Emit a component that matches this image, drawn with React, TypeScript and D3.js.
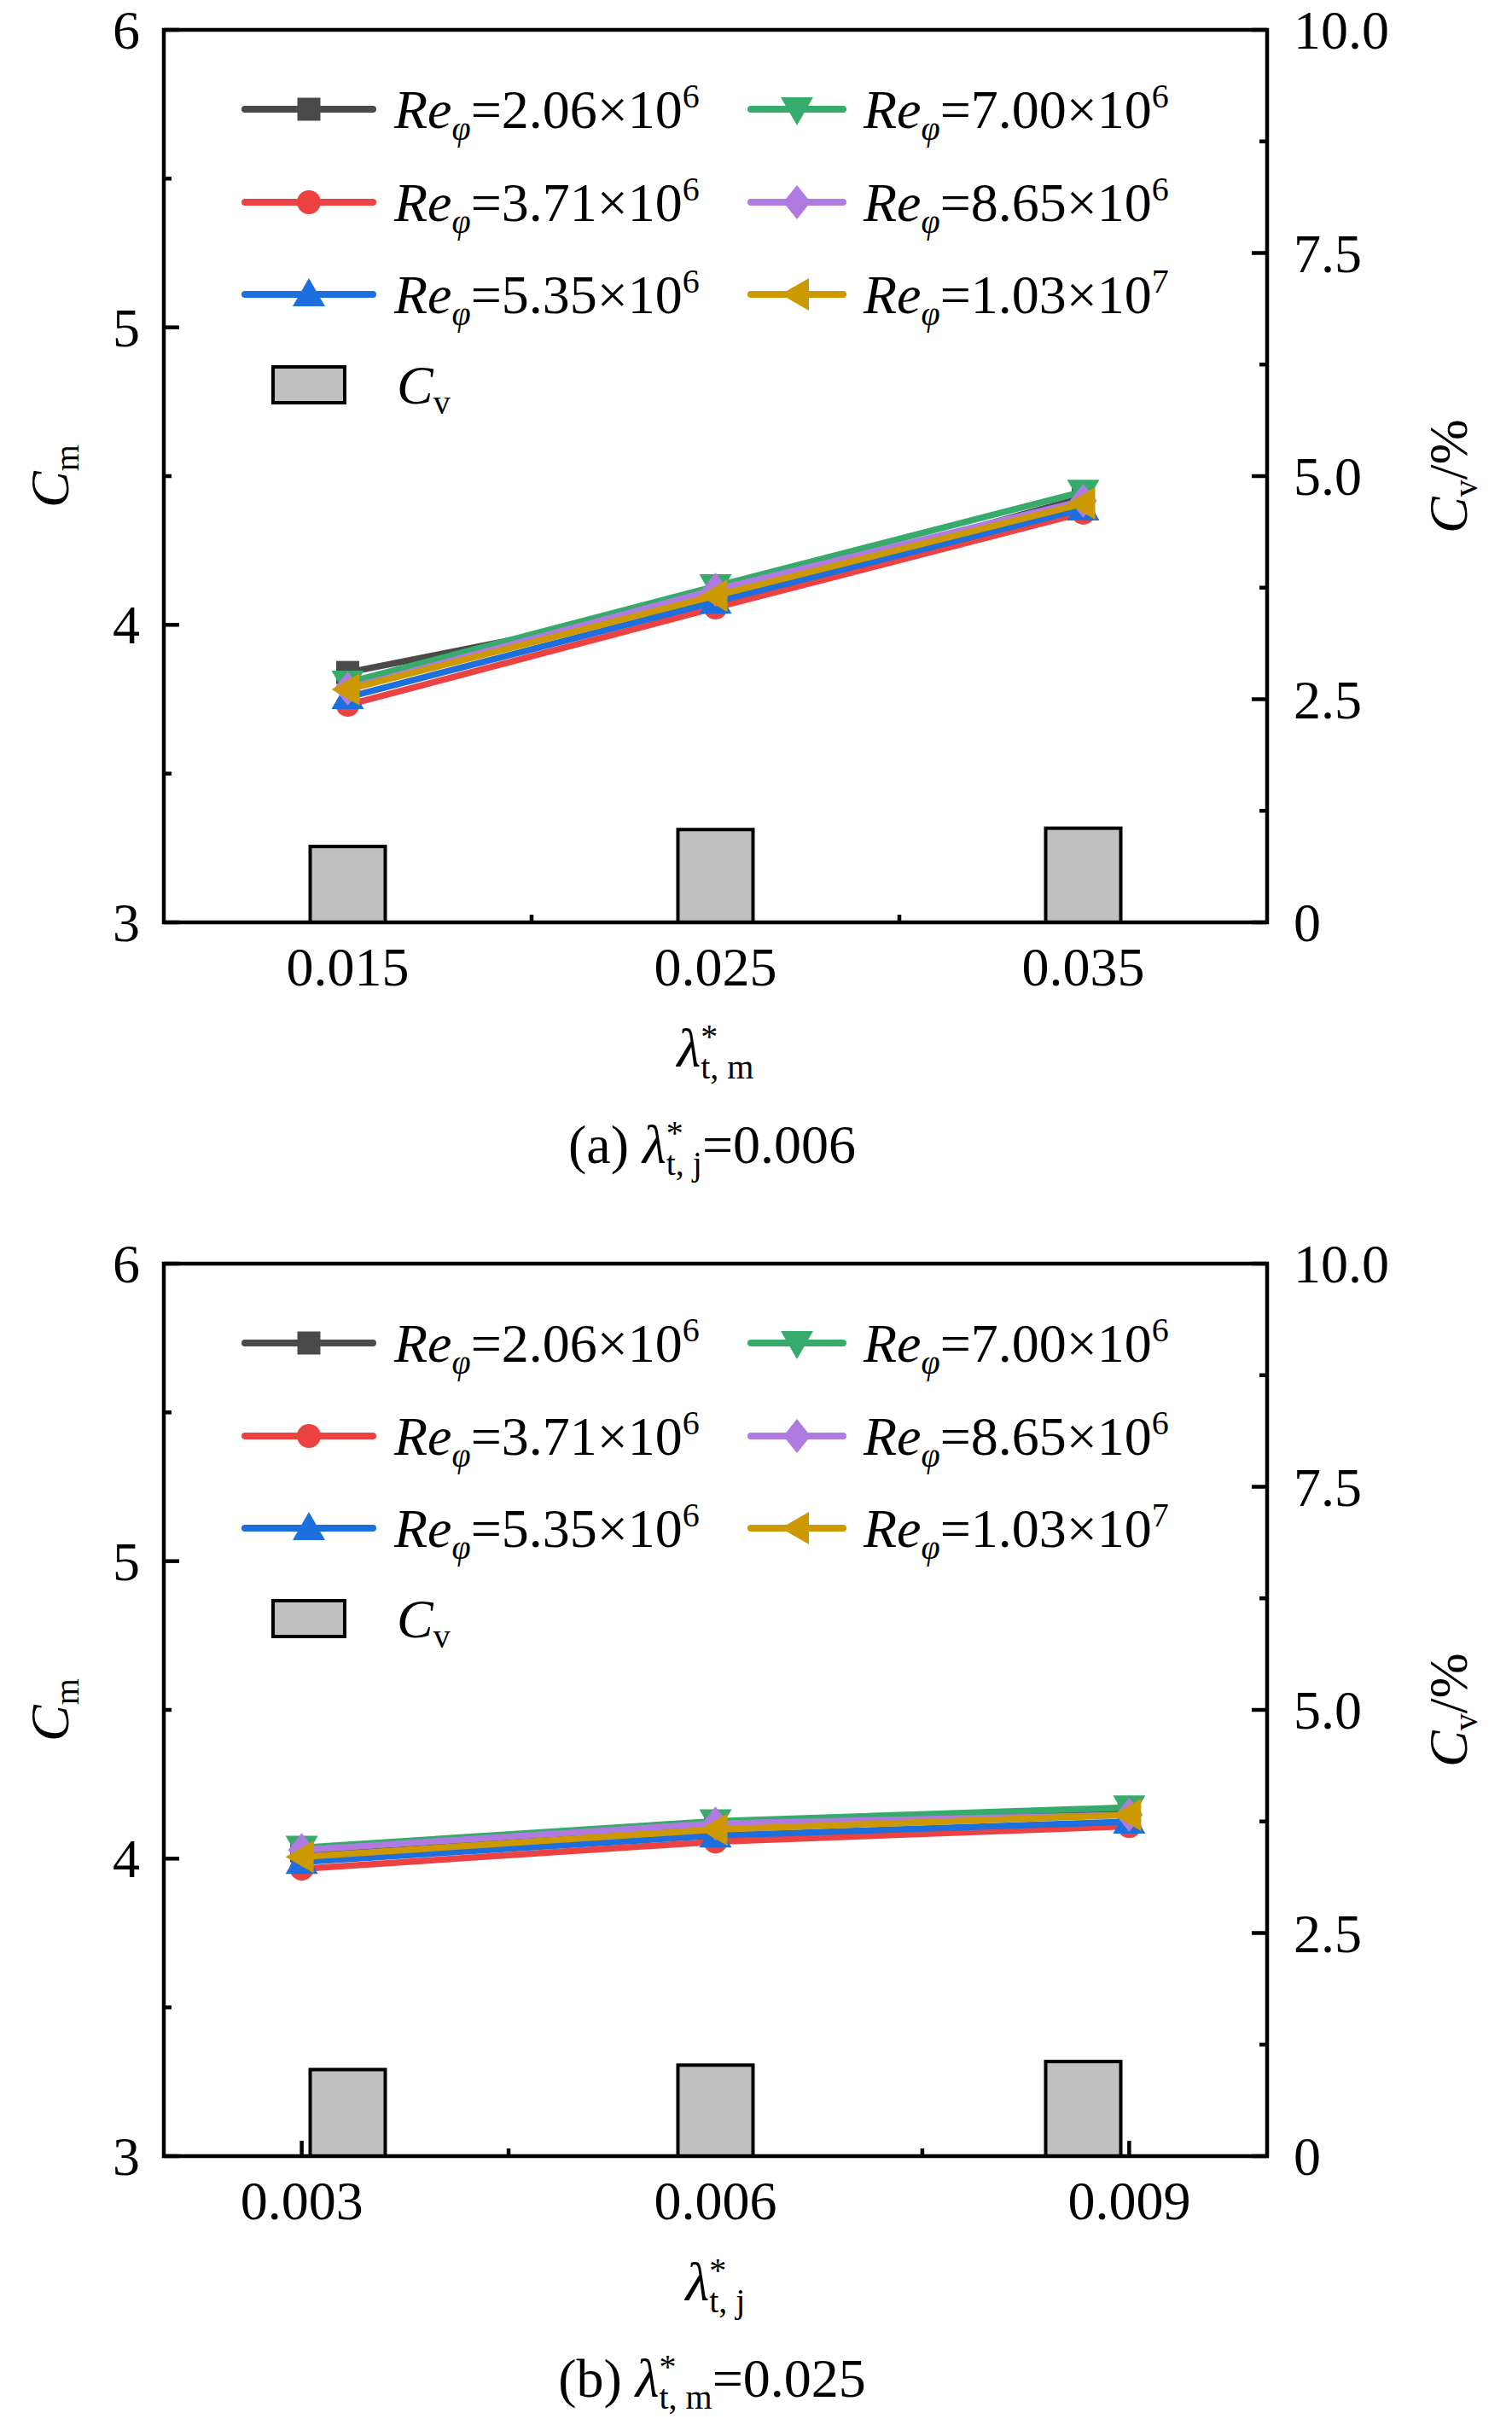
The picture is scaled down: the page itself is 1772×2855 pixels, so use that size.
import React from "react";
import * as d3 from "d3";

// ---------- data ----------
const xA = [0.015, 0.025, 0.035];
const xB = [0.003, 0.006, 0.009];
const xTickLabelsA = ["0.015", "0.025", "0.035"];
const xTickLabelsB = ["0.003", "0.006", "0.009"];
const xMinorA = [0.02, 0.03];
const xMinorB = [0.0045, 0.0075];

const reMantissa = ["2.06", "3.71", "5.35", "7.00", "8.65", "1.03"];
const reExponent = ["6", "6", "6", "6", "6", "7"];

// panel (a): Cm vs lambda*_t,m
const cmA_206 = [3.84, 4.085, 4.428];
const cmA_371 = [3.731, 4.058, 4.377];
const cmA_535 = [3.757, 4.078, 4.391];
const cmA_700 = [3.806, 4.13, 4.448];
const cmA_865 = [3.786, 4.118, 4.417];
const cmA_1030 = [3.783, 4.098, 4.408];
const cvA = [0.85, 1.04, 1.055];

// panel (b): Cm vs lambda*_t,j
const cmB_206 = [4.026, 4.118, 4.16];
const cmB_371 = [3.966, 4.057, 4.109];
const cmB_535 = [3.989, 4.078, 4.124];
const cmB_700 = [4.037, 4.126, 4.172];
const cmB_865 = [4.029, 4.118, 4.147];
const cmB_1030 = [4.006, 4.098, 4.147];
const cvB = [0.97, 1.02, 1.06];

const cmTicks = [3, 4, 5, 6];
const cmMinor = [3.5, 4.5, 5.5];
const cvTicks = [0, 2.5, 5, 7.5, 10];
const cvTickLabels = ["0", "2.5", "5.0", "7.5", "10.0"];
const cvMinor = [1.25, 3.75, 6.25, 8.75];

const colors = ["#4a4a4a", "#ec4242", "#1c6fdc", "#36ab6b", "#b07be0", "#cc9900"];
const shapes = ["square", "circle", "up", "down", "diamond", "left"];

const FONT = "'Liberation Serif', 'Times New Roman', serif";
const FS = 64;
const SFS = 40;

function markerPath(shape: string, cx: number, cy: number): string {
  const p = d3.path();
  if (shape === "square") {
    const h = 13.5;
    p.rect(cx - h, cy - h, 2 * h, 2 * h);
  } else if (shape === "circle") {
    p.moveTo(cx + 14, cy);
    p.arc(cx, cy, 14, 0, Math.PI * 2);
  } else if (shape === "up") {
    p.moveTo(cx, cy - 19);
    p.lineTo(cx + 19, cy + 14);
    p.lineTo(cx - 19, cy + 14);
  } else if (shape === "down") {
    p.moveTo(cx, cy + 19);
    p.lineTo(cx + 19, cy - 14);
    p.lineTo(cx - 19, cy - 14);
  } else if (shape === "diamond") {
    p.moveTo(cx, cy - 20);
    p.lineTo(cx + 16, cy);
    p.lineTo(cx, cy + 20);
    p.lineTo(cx - 16, cy);
  } else {
    p.moveTo(cx - 19, cy);
    p.lineTo(cx + 14, cy - 19);
    p.lineTo(cx + 14, cy + 19);
  }
  p.closePath();
  return p.toString();
}

type PanelProps = {
  top: number;
  xDomain: [number, number];
  xVals: number[];
  xTickLabels: string[];
  xMinor: number[];
  series: number[][];
  cv: number[];
  xSub: string;
  capPrefix: string;
  capSub: string;
  capValue: string;
};

function Panel(props: PanelProps) {
  const { top, xDomain, xVals, xTickLabels, xMinor, series, cv } = props;
  const left = 192;
  const right = 1485;
  const bottom = top + 1046;
  const x = d3.scaleLinear().domain(xDomain).range([left, right]);
  const xBar = d3.scalePoint<number>().domain([0, 1, 2]).range([left, right]).padding(0.5);
  const yL = d3.scaleLinear().domain([3, 6]).range([bottom, top]);
  const yR = d3.scaleLinear().domain([0, 10]).range([bottom, top]);
  const line = d3
    .line<number>()
    .x((_, i) => x(xVals[i]))
    .y((d) => yL(d));
  const barW = 88;
  const AW = 4.5;
  const cx = (left + right) / 2;
  const cy = (top + bottom) / 2;

  const legRows = [top + 93, top + 202, top + 310];
  const legCv = top + 416;
  const cols = [
    { x1: 287, x2: 437, tx: 462 },
    { x1: 880, x2: 988, tx: 1012 },
  ];

  return (
    <g fontFamily={FONT} fontSize={FS} fill="#000">
      {/* ticks */}
      {cmTicks.map((t) => (
        <line key={"lt" + t} x1={left} x2={left + 18} y1={yL(t)} y2={yL(t)} stroke="#000" strokeWidth={AW} />
      ))}
      {cmMinor.map((t) => (
        <line key={"lm" + t} x1={left} x2={left + 9} y1={yL(t)} y2={yL(t)} stroke="#000" strokeWidth={AW} />
      ))}
      {cvTicks.map((t) => (
        <line key={"rt" + t} x1={right - 18} x2={right} y1={yR(t)} y2={yR(t)} stroke="#000" strokeWidth={AW} />
      ))}
      {cvMinor.map((t) => (
        <line key={"rm" + t} x1={right - 9} x2={right} y1={yR(t)} y2={yR(t)} stroke="#000" strokeWidth={AW} />
      ))}
      {xVals.map((t) => (
        <line key={"bt" + t} x1={x(t)} x2={x(t)} y1={bottom} y2={bottom - 18} stroke="#000" strokeWidth={AW} />
      ))}
      {xMinor.map((t) => (
        <line key={"bm" + t} x1={x(t)} x2={x(t)} y1={bottom} y2={bottom - 9} stroke="#000" strokeWidth={AW} />
      ))}

      {/* bars */}
      {cv.map((v, i) => (
        <rect
          key={"bar" + i}
          x={(xBar(i) as number) - barW / 2}
          y={yR(v)}
          width={barW}
          height={bottom - yR(v)}
          fill="#c0c0c0"
          stroke="#000"
          strokeWidth={4}
        />
      ))}

      {/* lines */}
      {series.map((s, k) => (
        <g key={"s" + k}>
          <path d={line(s) || ""} fill="none" stroke={colors[k]} strokeWidth={7.5} strokeLinejoin="round" />
          {s.map((v, i) => (
            <path key={i} d={markerPath(shapes[k], x(xVals[i]), yL(v))} fill={colors[k]} />
          ))}
        </g>
      ))}

      {/* frame */}
      <rect x={left} y={top} width={right - left} height={bottom - top} fill="none" stroke="#000" strokeWidth={AW} />

      {/* tick labels */}
      {cmTicks.map((t) => (
        <text key={"ll" + t} x={164} y={yL(t) + 22} textAnchor="end">
          {t}
        </text>
      ))}
      {cvTicks.map((t, i) => (
        <text key={"rl" + t} x={1516} y={yR(t) + 22} textAnchor="start">
          {cvTickLabels[i]}
        </text>
      ))}
      {xVals.map((t, i) => (
        <text key={"xl" + t} x={x(t)} y={bottom + 74} textAnchor="middle">
          {xTickLabels[i]}
        </text>
      ))}

      {/* axis titles */}
      <text transform={`translate(80,${cy}) rotate(-90)`} textAnchor="middle">
        <tspan fontStyle="italic">C</tspan>
        <tspan fontSize={SFS} dy={12}>m</tspan>
      </text>
      <text transform={`translate(1719,${cy}) rotate(-90)`} textAnchor="middle">
        <tspan fontStyle="italic">C</tspan>
        <tspan fontSize={SFS} dy={12}>v</tspan>
        <tspan dy={-12}>/%</tspan>
      </text>
      <text x={cx} y={bottom + 169} textAnchor="middle">
        <tspan fontStyle="italic">λ</tspan>
        <tspan fontSize={SFS} dy={-22}>*</tspan>
        <tspan fontSize={SFS} dx={-20} dy={36}>{props.xSub}</tspan>
      </text>
      <text x={cx - 4} y={bottom + 282} textAnchor="middle">
        <tspan>{props.capPrefix} </tspan>
        <tspan fontStyle="italic">λ</tspan>
        <tspan fontSize={SFS} dy={-22}>*</tspan>
        <tspan fontSize={SFS} dx={-20} dy={36}>{props.capSub}</tspan>
        <tspan dy={-14}>={props.capValue}</tspan>
      </text>

      {/* legend */}
      {series.map((_, k) => {
        const col = cols[Math.floor(k / 3)];
        const ry = legRows[k % 3];
        const mx = (col.x1 + col.x2) / 2;
        return (
          <g key={"lg" + k}>
            <line x1={col.x1} x2={col.x2} y1={ry} y2={ry} stroke={colors[k]} strokeWidth={8} strokeLinecap="round" />
            <path d={markerPath(shapes[k], mx, ry)} fill={colors[k]} />
            <text x={col.tx} y={ry + 22}>
              <tspan fontStyle="italic">Re</tspan>
              <tspan fontStyle="italic" fontSize={SFS} dy={14}>φ</tspan>
              <tspan dy={-14}>={reMantissa[k]}×10</tspan>
              <tspan fontSize={SFS} dy={-24}>{reExponent[k]}</tspan>
            </text>
          </g>
        );
      })}
      <rect x={320} y={legCv - 21} width={84} height={42} fill="#c0c0c0" stroke="#000" strokeWidth={4} />
      <text x={465} y={legCv + 22}>
        <tspan fontStyle="italic">C</tspan>
        <tspan fontSize={SFS} dy={12}>v</tspan>
      </text>
    </g>
  );
}

export default function App() {
  const seriesA = [cmA_206, cmA_371, cmA_535, cmA_700, cmA_865, cmA_1030];
  const seriesB = [cmB_206, cmB_371, cmB_535, cmB_700, cmB_865, cmB_1030];
  return (
    <svg
      width={1772}
      height={2855}
      viewBox="0 0 1772 2855"
      style={{ position: "absolute", left: 0, top: 0, background: "#fff" }}
    >
      <rect width={1772} height={2855} fill="#fff" />
      <Panel
        top={35}
        xDomain={[0.01, 0.04]}
        xVals={xA}
        xTickLabels={xTickLabelsA}
        xMinor={xMinorA}
        series={seriesA}
        cv={cvA}
        xSub="t, m"
        capPrefix="(a)"
        capSub="t, j"
        capValue="0.006"
      />
      <Panel
        top={1481}
        xDomain={[0.002, 0.01]}
        xVals={xB}
        xTickLabels={xTickLabelsB}
        xMinor={xMinorB}
        series={seriesB}
        cv={cvB}
        xSub="t, j"
        capPrefix="(b)"
        capSub="t, m"
        capValue="0.025"
      />
    </svg>
  );
}
